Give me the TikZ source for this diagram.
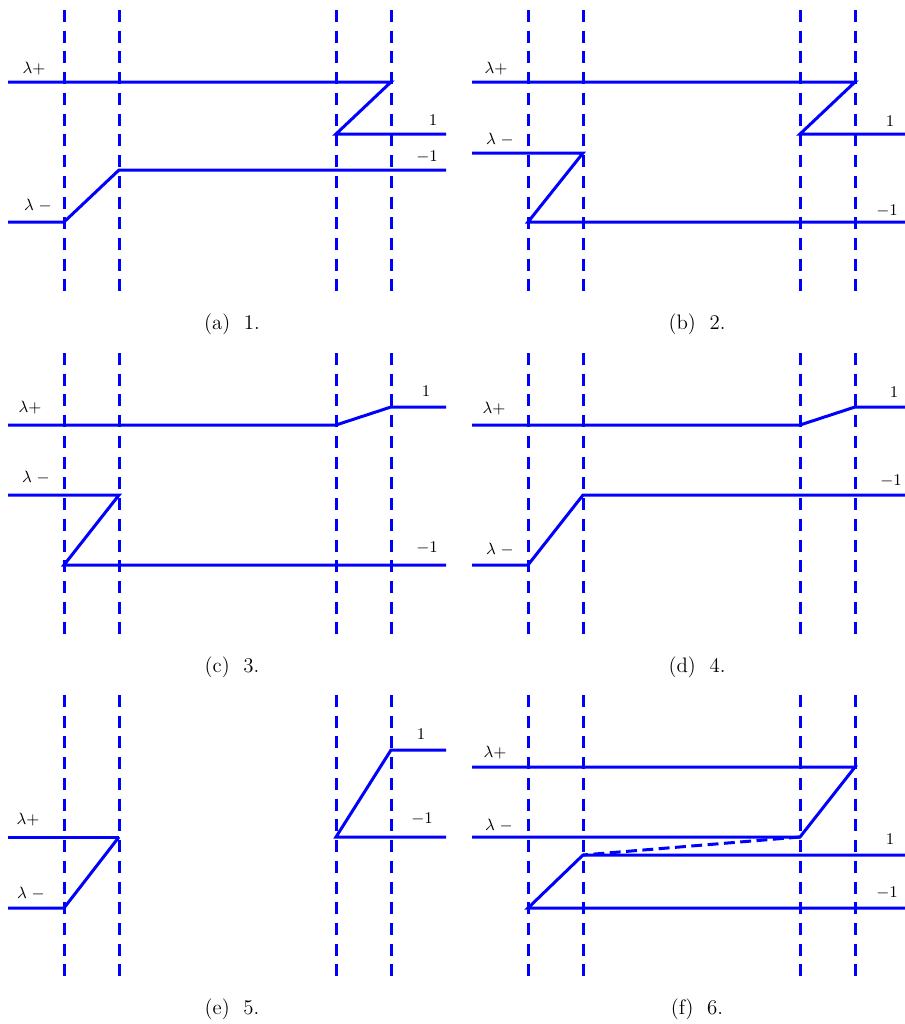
\documentclass[tikz,border=0pt]{standalone}
\usepackage{amsmath}
\usepackage{tikz}
\usetikzlibrary{positioning}

\tikzset{
  curve/.style={draw, blue, line width=1.65pt},
  guide/.style={draw, blue, line width=1.65pt, dash pattern=on 6.6pt off 4.8pt},
  tag/.style={font=\small, inner sep=1pt},
  subcap/.style={font=\fontsize{11.5}{14}\selectfont, inner sep=1pt}
}

\begin{document}
\begin{tikzpicture}[x=0.55pt, y=-0.55pt]
    \useasboundingbox (0,0) rectangle (905,1024);

    % dashed guides, same for all six panels
    \foreach \dx/\dy in {0/0, 464/0, 0/343, 464/343, 0/685, 464/685}
        \foreach \gx in {64, 119, 336, 391}
            \path[guide] (\gx+\dx, 10+\dy) -- (\gx+\dx, 292+\dy);

    % (a)
    \begin{scope}
        \path[curve] (8,82) -- (391,82) -- (336,134) -- (446,134);
        \path[curve] (8,222) -- (64,222) -- (119,170) -- (446,170);
        \node (aPlus) [tag] at (34,69) {$\lambda$+};
        \node (aMinus) [tag] at (38,206) {$\lambda\;-$};
        \node (aOne) [tag] at (433,120) {1};
        \node (aNegOne) [tag] at (427,157) {$-1$};
        \node (capA) [subcap] at (232,324) {(a)\ \ 1.};
    \end{scope}

    % (b)
    \begin{scope}[shift={(464,0)}]
        \path[curve] (8,82) -- (391,82) -- (336,134) -- (441,134);
        \path[curve] (8,153) -- (119,153) -- (64,222) -- (441,222);
        \node (bPlus) [tag] at (32,69) {$\lambda$+};
        \node (bMinus) [tag] at (36,140) {$\lambda\;-$};
        \node (bOne) [tag] at (426,121) {1};
        \node (bNegOne) [tag] at (423,211) {$-1$};
        \node (capB) [subcap] at (233,324) {(b)\ \ 2.};
    \end{scope}

    % (c)
    \begin{scope}[shift={(0,343)}]
        \path[curve] (8,82) -- (336,82) -- (391,64) -- (446,64);
        \path[curve] (8,152) -- (119,152) -- (64,222) -- (446,222);
        \node (cPlus) [tag] at (30,65) {$\lambda$+};
        \node (cMinus) [tag] at (36,135) {$\lambda\;-$};
        \node (cOne) [tag] at (426,48) {1};
        \node (cNegOne) [tag] at (427,205) {$-1$};
        \node (capC) [subcap] at (232,324) {(c)\ \ 3.};
    \end{scope}

    % (d)
    \begin{scope}[shift={(464,343)}]
        \path[curve] (8,82) -- (336,82) -- (391,64) -- (441,64);
        \path[curve] (8,222) -- (64,222) -- (119,152) -- (441,152);
        \node (dPlus) [tag] at (30,66) {$\lambda$+};
        \node (dMinus) [tag] at (36,207) {$\lambda\;-$};
        \node (dOne) [tag] at (430,49) {1};
        \node (dNegOne) [tag] at (427,138) {$-1$};
        \node (capD) [subcap] at (233,324) {(d)\ \ 4.};
    \end{scope}

    % (e)
    \begin{scope}[shift={(0,685)}]
        \path[curve] (8,152) -- (119,152);
        \path[curve] (8,223) -- (64,223) -- (119,152);
        \path[curve] (446,65) -- (391,65) -- (336,152) -- (446,152);
        \node (ePlus) [tag] at (28,135) {$\lambda$+};
        \node (eMinus) [tag] at (31,209) {$\lambda\;-$};
        \node (eOne) [tag] at (421,49) {1};
        \node (eNegOne) [tag] at (422,134) {$-1$};
        \node (capE) [subcap] at (232,324) {(e)\ \ 5.};
    \end{scope}

    % (f)
    \begin{scope}[shift={(464,685)}]
        \path[curve] (8,82) -- (391,82) -- (336,152) -- (8,152);
        \path[guide, dash pattern=on 6pt off 3pt] (336,152) -- (119,170);
        \path[curve] (441,170) -- (119,170) -- (64,223) -- (441,223);
        \node (fPlus) [tag] at (31,68) {$\lambda$+};
        \node (fMinus) [tag] at (35,141) {$\lambda\;-$};
        \node (fOne) [tag] at (426,154) {1};
        \node (fNegOne) [tag] at (423,208) {$-1$};
        \node (capF) [subcap] at (233,324) {(f)\ \ 6.};
    \end{scope}

\end{tikzpicture}
\end{document}
